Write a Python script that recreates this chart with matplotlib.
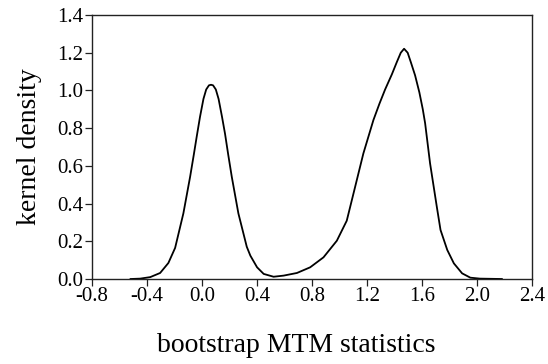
import matplotlib
matplotlib.use("Agg")
import matplotlib.pyplot as plt

# Kernel density of the bootstrap MTM statistics
stat_values = [-0.52, -0.45, -0.377, -0.305, -0.245, -0.196, -0.136, -0.087, -0.060,
               -0.039, -0.015, 0.010, 0.030, 0.050, 0.065, 0.080, 0.100, 0.120, 0.145,
               0.167, 0.190, 0.216, 0.264, 0.325, 0.351, 0.400, 0.448, 0.520, 0.593,
               0.690, 0.786, 0.883, 0.980, 1.052, 1.106, 1.173, 1.246, 1.290, 1.331,
               1.380, 1.416, 1.445, 1.469, 1.495, 1.518, 1.549, 1.580, 1.605, 1.622,
               1.658, 1.707, 1.734, 1.783, 1.831, 1.891, 1.951, 2.02, 2.10, 2.18]
density = [0.0, 0.002, 0.010, 0.032, 0.085, 0.165, 0.348, 0.542, 0.660,
           0.755, 0.860, 0.955, 1.005, 1.027, 1.030, 1.027, 1.005, 0.955, 0.860,
           0.770, 0.660, 0.542, 0.348, 0.171, 0.124, 0.062, 0.027, 0.012, 0.018,
           0.032, 0.062, 0.115, 0.203, 0.309, 0.468, 0.666, 0.843, 0.930, 1.005,
           1.085, 1.150, 1.200, 1.221, 1.200, 1.150, 1.080, 0.990, 0.900, 0.826,
           0.613, 0.383, 0.260, 0.154, 0.083, 0.030, 0.007, 0.002, 0.001, 0.0]

x_ticks = [-0.8, -0.4, 0.0, 0.4, 0.8, 1.2, 1.6, 2.0, 2.4]
y_ticks = [0.0, 0.2, 0.4, 0.6, 0.8, 1.0, 1.2, 1.4]

plt.rcParams['font.family'] = ['Liberation Serif', 'DejaVu Serif']

fig = plt.figure(figsize=(5.48, 3.64), dpi=100)
ax = fig.add_axes([0.168, 0.2335, 0.803, 0.7253])

ax.plot(stat_values, density, color='black', linewidth=1.3,
        solid_joinstyle='round')

ax.set_xlim(-0.8, 2.4)
ax.set_ylim(0.0, 1.4)
ax.set_xticks(x_ticks)
ax.set_xticklabels([f"{v:.1f}" for v in x_ticks])
ax.set_yticks(y_ticks)
ax.set_yticklabels([f"{v:.1f}" for v in y_ticks])

for side in ['left', 'bottom', 'top', 'right']:
    ax.spines[side].set_color('#222222')
    ax.spines[side].set_linewidth(1.0)

ax.tick_params(axis='both', direction='out', length=5, width=0.9,
               labelsize=15, color='#222222')
ax.tick_params(axis='x', pad=0.5)
ax.tick_params(axis='y', pad=1.5)

ax.set_xlabel('bootstrap MTM statistics', fontsize=20)
ax.set_ylabel('kernel density', fontsize=20)
ax.xaxis.set_label_coords(0.465, -0.205)
ax.yaxis.set_label_coords(-0.114, 0.5)

fig.savefig('out.png', dpi=100)
